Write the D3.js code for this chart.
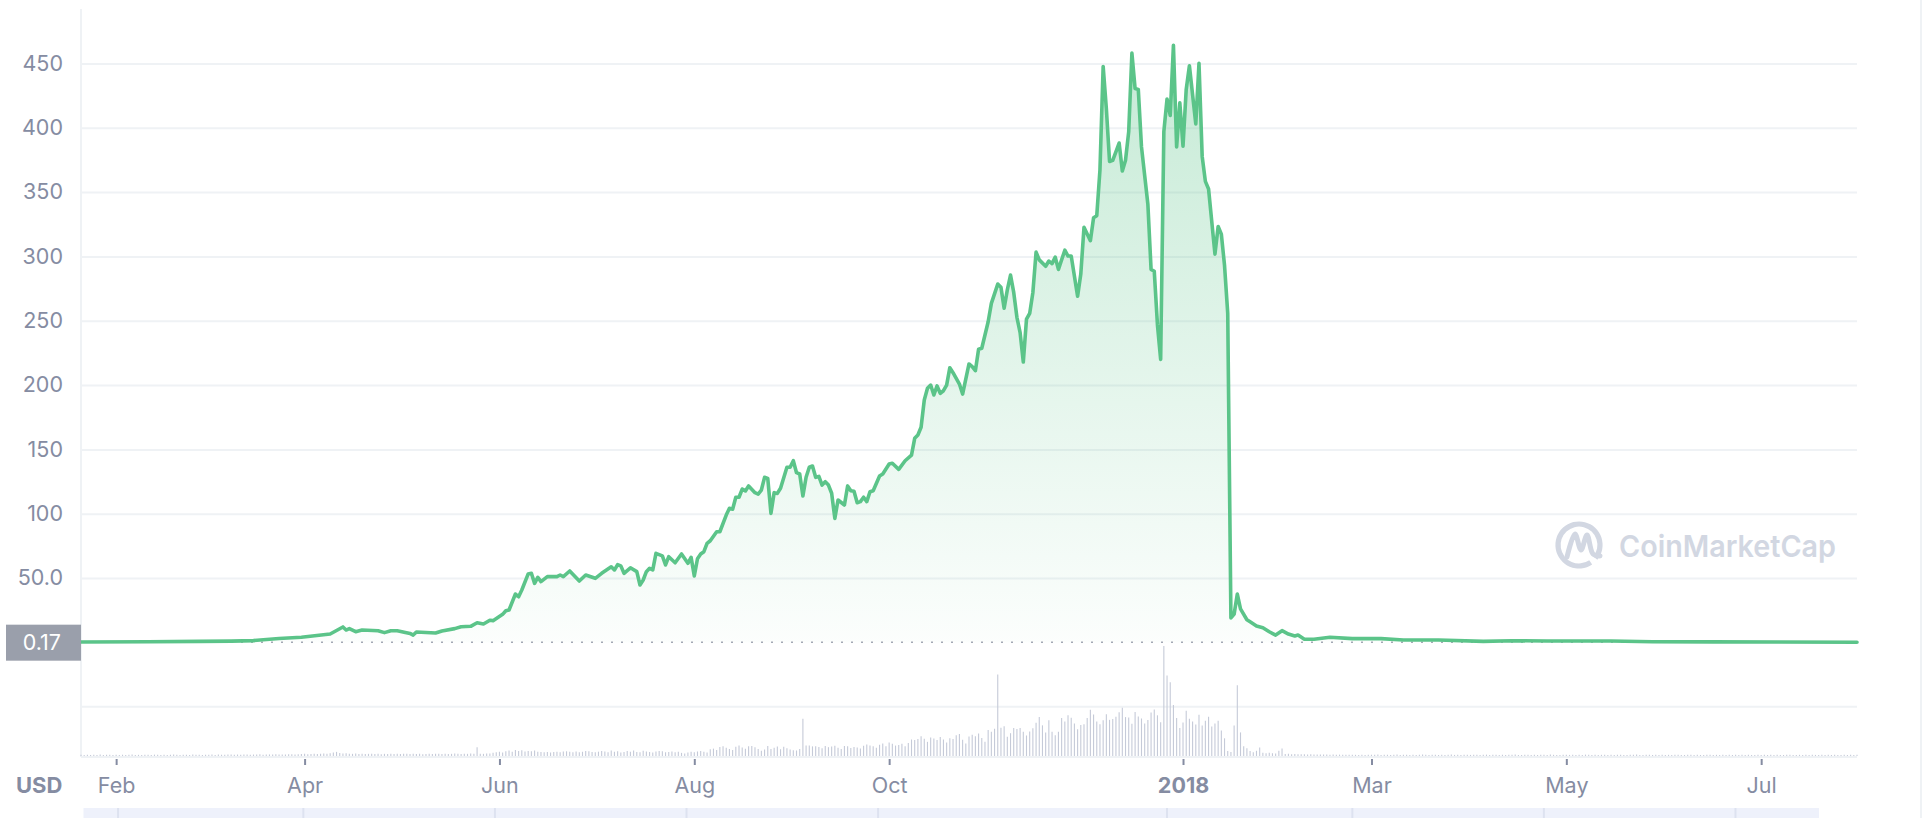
<!DOCTYPE html>
<html><head><meta charset="utf-8">
<script src="https://cdn.jsdelivr.net/npm/d3@7"></script>
<style>
html,body{margin:0;padding:0;background:#fff;overflow:hidden;}
svg{display:block;font-family:Inter,"Noto Sans",sans-serif;}
</style></head><body>
<svg id="chart" width="1922" height="818"></svg>
<script>
// ---------------- DATA ----------------
const priceDates = [
"2017-01-21","2017-02-11","2017-02-27","2017-03-09","2017-03-16","2017-03-24","2017-03-31","2017-04-09","2017-04-13","2017-04-14",
"2017-04-15","2017-04-17","2017-04-19","2017-04-24","2017-04-26","2017-04-28","2017-04-30","2017-05-04","2017-05-05","2017-05-06",
"2017-05-12","2017-05-14","2017-05-18","2017-05-20","2017-05-23","2017-05-25","2017-05-27","2017-05-29","2017-05-30","2017-06-02",
"2017-06-03","2017-06-04","2017-06-06","2017-06-07","2017-06-08","2017-06-10","2017-06-11","2017-06-12","2017-06-13","2017-06-14",
"2017-06-16","2017-06-19","2017-06-20","2017-06-21","2017-06-23","2017-06-26","2017-06-28","2017-07-01","2017-07-03","2017-07-06",
"2017-07-07","2017-07-08","2017-07-09","2017-07-10","2017-07-12","2017-07-14","2017-07-15","2017-07-16","2017-07-17","2017-07-18",
"2017-07-19","2017-07-20","2017-07-22","2017-07-23","2017-07-24","2017-07-26","2017-07-28","2017-07-30","2017-07-31","2017-08-01",
"2017-08-02","2017-08-03","2017-08-04","2017-08-05","2017-08-06","2017-08-08","2017-08-09","2017-08-11","2017-08-12","2017-08-13",
"2017-08-14","2017-08-15","2017-08-16","2017-08-17","2017-08-18","2017-08-20","2017-08-21","2017-08-22","2017-08-23","2017-08-24",
"2017-08-25","2017-08-26","2017-08-27","2017-08-28","2017-08-30","2017-08-31","2017-09-01","2017-09-02","2017-09-03","2017-09-04",
"2017-09-05","2017-09-06","2017-09-07","2017-09-08","2017-09-09","2017-09-10","2017-09-11","2017-09-12","2017-09-13","2017-09-14",
"2017-09-15","2017-09-17","2017-09-18","2017-09-19","2017-09-20","2017-09-21","2017-09-22","2017-09-23","2017-09-24","2017-09-25",
"2017-09-26","2017-09-28","2017-09-29","2017-10-01","2017-10-02","2017-10-04","2017-10-06","2017-10-08","2017-10-09","2017-10-10",
"2017-10-11","2017-10-12","2017-10-13","2017-10-14","2017-10-15","2017-10-16","2017-10-17","2017-10-18","2017-10-19","2017-10-20",
"2017-10-21","2017-10-23","2017-10-24","2017-10-26","2017-10-27","2017-10-28","2017-10-29","2017-10-30","2017-11-01","2017-11-02",
"2017-11-04","2017-11-05","2017-11-06","2017-11-07","2017-11-08","2017-11-09","2017-11-10","2017-11-11","2017-11-12","2017-11-13",
"2017-11-14","2017-11-15","2017-11-16","2017-11-17","2017-11-19","2017-11-20","2017-11-21","2017-11-22","2017-11-23","2017-11-25",
"2017-11-26","2017-11-27","2017-11-29","2017-11-30","2017-12-01","2017-12-03","2017-12-04","2017-12-05","2017-12-06","2017-12-07",
"2017-12-08","2017-12-09","2017-12-10","2017-12-12","2017-12-13","2017-12-14","2017-12-15","2017-12-16","2017-12-17","2017-12-18",
"2017-12-19","2017-12-21","2017-12-22","2017-12-23","2017-12-24","2017-12-25","2017-12-26","2017-12-27","2017-12-28","2017-12-29",
"2017-12-30","2017-12-31","2018-01-01","2018-01-02","2018-01-03","2018-01-05","2018-01-06","2018-01-07","2018-01-08","2018-01-09",
"2018-01-11","2018-01-12","2018-01-13","2018-01-14","2018-01-15","2018-01-16","2018-01-17","2018-01-18","2018-01-19","2018-01-21",
"2018-01-22","2018-01-24","2018-01-26","2018-01-28","2018-01-30","2018-02-01","2018-02-03","2018-02-05","2018-02-06","2018-02-08",
"2018-02-11","2018-02-16","2018-02-23","2018-03-04","2018-03-11","2018-03-22","2018-04-05","2018-04-14","2018-04-25","2018-05-15",
"2018-05-28","2018-06-16","2018-07-06","2018-07-31"
];
const priceValues = [
0.3,0.5,0.8,1.0,1.4,3.0,4.0,6.5,12.0,9.6,
10.7,8.3,9.6,9.1,7.6,9.1,9.0,7.0,5.7,8.1,
7.3,8.9,10.7,12.2,12.5,15.3,14.3,17.2,16.9,21.8,
24.6,25.2,37.6,35.5,40.7,53.2,53.7,45.9,50.6,47.2,
51.1,51.1,52.4,51.1,55.5,47.7,52.4,49.8,53.7,58.8,
56.3,60.4,59.5,53.7,58.0,55.0,44.6,48.5,55.0,57.6,
56.3,69.2,67.3,60.2,66.6,61.9,68.7,61.5,66.1,51.7,
65.0,68.7,70.5,77.0,79.0,86.0,86.0,99.0,104.2,103.5,
112.8,112.8,119.2,117.7,121.6,116.4,115.3,118.4,128.3,127.5,
100.3,116.4,115.8,119.8,136.1,136.1,141.2,131.9,130.9,113.8,
128.3,136.1,137.1,128.3,129.0,122.3,124.9,122.3,115.9,96.4,
110.7,106.8,121.6,117.9,117.4,108.6,109.4,112.8,109.4,117.1,
117.9,129.3,130.9,138.6,139.2,134.5,141.2,145.6,158.6,161.2,
167.2,188.4,197.5,200.0,192.3,199.3,193.6,195.6,200.0,213.5,
209.6,200.8,193.0,216.4,214.3,211.2,227.8,228.6,249.2,263.5,
278.5,276.0,259.7,274.0,285.5,272.0,252.7,240.8,217.9,251.2,
255.7,272.0,303.3,297.3,292.3,296.4,294.4,299.4,289.9,304.8,
300.3,300.3,269.0,286.3,322.6,312.2,330.1,331.6,367.3,447.6,
414.9,373.8,374.7,388.1,366.4,374.7,397.0,458.0,430.4,429.8,
385.1,340.5,289.9,288.4,246.7,220.0,397.0,422.3,409.5,464.0,
385.1,419.3,385.7,429.8,448.2,403.0,450.0,377.7,358.3,352.4,
301.8,323.2,317.3,292.9,255.7,19.0,22.0,37.5,26.0,17.6,
16.0,12.7,11.4,8.3,5.7,9.1,6.5,5.0,5.7,2.4,
2.4,4.0,2.9,2.9,1.9,1.9,0.8,1.3,1.1,1.1,
0.5,0.4,0.3,0.17
];

// daily volume (relative units), one array per month
const volumeMonthStarts = ["2017-01-21","2017-02-01","2017-03-01","2017-04-01","2017-05-01","2017-06-01","2017-07-01",
"2017-08-01","2017-09-01","2017-10-01","2017-11-01","2017-12-01","2018-01-01","2018-02-01","2018-03-01","2018-04-01",
"2018-05-01","2018-06-01","2018-07-01"];
const volumeMonthValues = [
[1.2,1.0,1.3,1.1,1.2,1.0,1.4,1.1,1.2,1.3,1.1],
[1.2,1.1,1.3,1.0,1.2,1.4,1.1,1.2,1.0,1.3,1.2,1.1,1.4,1.2,1.0,1.3,1.1,1.2,1.5,1.2,1.1,1.3,1.2,1.0,1.4,1.2,1.3,1.1],
[1.3,1.2,1.4,1.1,1.5,1.3,1.2,1.6,1.4,1.3,1.5,1.2,1.4,1.6,1.3,1.5,1.4,1.7,1.3,1.5,1.6,1.4,1.8,1.5,1.6,1.4,1.7,1.9,1.6,1.8,2.0],
[2.2,1.9,2.1,2.4,2.0,2.3,2.6,2.2,2.8,3.5,4.2,3.1,2.6,2.9,2.4,2.2,2.5,2.1,2.3,2.0,2.2,2.4,2.1,2.3,1.9,2.2,2.0,2.3,2.1,2.2],
[2.0,2.2,2.4,2.1,2.3,2.0,2.2,1.9,2.1,2.3,2.0,2.2,2.4,2.1,2.3,2.0,2.2,2.5,2.3,2.1,2.4,2.2,2.6,2.3,9.0,2.4,2.2,2.6,2.5,3.2,3.8],
[4.2,3.6,4.8,5.5,4.4,6.2,5.0,5.8,4.6,5.2,4.8,5.6,4.2,4.0,3.8,4.1,3.6,4.0,4.4,3.9,4.5,4.8,4.2,3.9,4.6,3.7,4.3,5.1,4.8,4.0],
[3.9,4.4,5.2,4.6,3.8,5.6,4.3,4.9,3.6,4.0,5.0,4.4,5.5,4.1,3.8,5.3,4.7,4.0,3.6,4.5,5.2,4.8,3.8,4.1,4.6,3.9,4.3,3.2,2.5,3.6,4.4],
[3.8,4.6,5.1,4.3,3.6,6.8,7.5,6.2,9.2,9.8,8.4,7.2,6.0,9.5,10.6,8.6,7.4,9.8,10.2,8.8,7.0,5.4,6.6,10.2,7.0,8.4,9.6,6.9,9.4,7.8,6.6],
[5.9,5.6,7.2,38,10.6,10.6,9.8,9.9,9.2,8.0,10.3,9.0,9.6,10.5,8.4,7.0,10.2,9.8,8.1,9.2,8.6,7.6,10.4,11.8,10.6,9.8,8.5,11.4,12.6,9.9],
[13.8,12.5,10.6,11.3,12.4,9.8,13.2,16.8,16.2,17.4,20.0,17.6,14.4,18.8,17.9,16.2,19.3,16.8,13.8,18.0,17.2,21.2,22.4,16.6,12.7,19.8,21.6,20.2,23.0,18.3,14.6],
[26.4,24.8,27.8,83,28.8,30.4,19.6,23.2,28.6,27.6,28.6,24.8,20.9,25.0,28.2,33.8,39.8,31.2,23.8,36.5,24.8,21.2,24.8,38.6,35.0,41.4,38.8,33.0,27.2,31.6],
[32.2,38.6,47.0,42.2,35.0,32.2,36.4,42.4,36.8,37.6,40.0,44.4,49,39.6,39.2,32.8,44.8,40.2,38.2,33.0,36.6,44.2,47.4,41.4,34.4,112,82,75,52,38.6,28.4],
[34,46,38,35,32,42,31,36,40,30,33,36,26,18,5,4,31,72,24,10,8,5,3.7,5.3,8.7,3.3,2.7,3.2,2.8,2.6,5.3],
[7.7,2.0,2.2,1.8,2.0,1.9,1.7,1.8,1.6,1.7,1.5,1.6,1.5,1.4,1.5,1.3,1.4,1.3,1.4,1.2,1.3,1.2,1.3,1.2,1.1,1.2,1.1,1.2],
[1.3,1.2,1.4,1.1,1.2,1.3,1.0,1.2,1.4,1.1,1.3,1.2,1.1,1.3,1.0,1.2,1.4,1.2,1.1,1.3,1.2,1.0,1.3,1.1,1.2,1.4,1.1,1.2,1.0,1.3,1.2],
[1.1,1.3,1.2,1.0,1.2,1.4,1.1,1.2,1.3,1.0,1.2,1.1,1.3,1.2,1.4,1.1,1.0,1.2,1.3,1.1,1.2,1.0,1.3,1.2,1.1,1.4,1.2,1.0,1.1,1.3],
[1.2,1.1,1.3,1.0,1.2,1.1,1.4,1.2,1.0,1.3,1.1,1.2,1.3,1.0,1.2,1.1,1.3,1.2,1.0,1.1,1.3,1.2,1.4,1.1,1.0,1.2,1.3,1.1,1.2,1.0,1.3],
[1.1,1.2,1.0,1.3,1.2,1.1,1.0,1.2,1.3,1.1,1.2,1.0,1.1,1.3,1.2,1.0,1.2,1.1,1.3,1.0,1.2,1.1,1.2,1.0,1.3,1.1,1.2,1.0,1.1,1.2],
[1.0,1.2,1.1,1.3,1.0,1.2,1.1,1.0,1.2,1.3,1.1,1.0,1.2,1.1,1.3,1.0,1.2,1.1,1.0,1.2,1.1,1.3,1.0,1.2,1.1,1.0,1.2,1.1,1.3,1.0,1.2]
];

const yTickValues = [50,100,150,200,250,300,350,400,450];
const yTickLabels = ["50.0","100","150","200","250","300","350","400","450"];
const xTickDates = ["2017-02-01","2017-04-01","2017-06-01","2017-08-01","2017-10-01","2018-01-01","2018-03-01","2018-05-01","2018-07-01"];
const xTickLabels = ["Feb","Apr","Jun","Aug","Oct","2018","Mar","May","Jul"];
const navigatorDates = xTickDates;
const dateDomain = ["2017-01-21","2018-07-31"];
const currentPrice = 0.17;
const currentPriceLabel = "0.17";
const currencyLabel = "USD";
const watermarkText = "CoinMarketCap";
const volumeGridValue = 50;
const volumeMax = 115;

// ---------------- DRAW ----------------
const parse = d3.utcParse("%Y-%m-%d");
const svg = d3.select("#chart");
const L = 81, R = 1857;
const textColor = "#858ca2", gridColor = "#eff2f5", green = "#5bc489";

const x = d3.scaleUtc().domain(dateDomain.map(parse)).range([L, R]);
const y = d3.scaleLinear().domain([0, 450]).range([642.4, 63.4]);
const yv = d3.scaleLinear().domain([0, volumeMax]).range([756, 643]);

const prices = priceDates.map((d, i) => ({date: parse(d), value: priceValues[i]}));
const volumes = [];
volumeMonthStarts.forEach((s, m) => {
  const start = parse(s);
  volumeMonthValues[m].forEach((v, i) => volumes.push({date: d3.utcDay.offset(start, i), value: v}));
});

// defs gradient
const defs = svg.append("defs");
const grad = defs.append("linearGradient").attr("id", "areaGrad")
  .attr("gradientUnits", "userSpaceOnUse").attr("x1", 0).attr("x2", 0)
  .attr("y1", y(450)).attr("y2", y(0));
grad.append("stop").attr("offset", "0%").attr("stop-color", green).attr("stop-opacity", 0.34);
grad.append("stop").attr("offset", "100%").attr("stop-color", green).attr("stop-opacity", 0.02);

// left axis line and right border
svg.append("line").attr("x1", L).attr("x2", L).attr("y1", 9).attr("y2", 757)
  .attr("stroke", gridColor).attr("stroke-width", 2);
svg.append("line").attr("x1", 1921).attr("x2", 1921).attr("y1", 0).attr("y2", 818)
  .attr("stroke", gridColor).attr("stroke-width", 2);

// y axis with gridlines
const yAxis = svg.append("g").attr("transform", `translate(${L},0)`)
  .call(d3.axisLeft(y).tickValues(yTickValues).tickSize(-(R - L)).tickPadding(18)
    .tickFormat((d, i) => yTickLabels[i]));
yAxis.select(".domain").remove();
yAxis.selectAll(".tick line").attr("stroke", gridColor).attr("stroke-width", 2);
yAxis.selectAll(".tick text").attr("fill", textColor).attr("font-size", 21.5)
  .attr("font-family", "Inter, sans-serif");

// volume grid lines
svg.append("line").attr("x1", L).attr("x2", R).attr("y1", yv(volumeGridValue)).attr("y2", yv(volumeGridValue))
  .attr("stroke", gridColor).attr("stroke-width", 2);
svg.append("line").attr("x1", L).attr("x2", R).attr("y1", yv(0) + 1).attr("y2", yv(0) + 1)
  .attr("stroke", gridColor).attr("stroke-width", 2);

// area
svg.append("path").datum(prices)
  .attr("d", d3.area().x(d => x(d.date)).y0(y(0)).y1(d => y(d.value)))
  .attr("fill", "url(#areaGrad)");

// current price dotted line
svg.append("line").attr("x1", L).attr("x2", R).attr("y1", y(currentPrice)).attr("y2", y(currentPrice))
  .attr("stroke", "#a3a8b4").attr("stroke-width", 1.6).attr("stroke-dasharray", "2 8");

// volume bars
svg.append("g").selectAll("line").data(volumes).join("line")
  .attr("x1", d => x(d.date)).attr("x2", d => x(d.date))
  .attr("y1", yv(0)).attr("y2", d => yv(d.value))
  .attr("stroke", "#c5cad8").attr("stroke-width", 1.1);

// watermark
const wm = svg.append("g").attr("fill", "none").attr("stroke", "#d2d7e2");
const cx = 1579, cy = 545, r = 21;
wm.append("path")
  .attr("d", d3.arc()({innerRadius: r - 2.6, outerRadius: r + 2.6, startAngle: 2.55, endAngle: 2 * Math.PI + 2.25}))
  .attr("transform", `translate(${cx},${cy})`).attr("fill", "#d2d7e2").attr("stroke", "none");
wm.append("path")
  .attr("d", d3.line().curve(d3.curveCatmullRom.alpha(0.5))([
    [cx - 12, cy + 12], [cx - 4, cy - 11], [cx + 2, cy + 5], [cx + 8, cy - 10], [cx + 14, cy + 9], [cx + 21, cy + 11]
  ]))
  .attr("stroke-width", 5).attr("stroke-linecap", "round").attr("stroke-linejoin", "round");
svg.append("text").attr("x", 1619).attr("y", 556.5).text(watermarkText)
  .attr("fill", "#d2d7e2").attr("font-size", 30).attr("font-weight", 600)
  .attr("font-family", "Inter, sans-serif").attr("textLength", 217).attr("lengthAdjust", "spacingAndGlyphs");

// price line
svg.append("path").datum(prices)
  .attr("d", d3.line().x(d => x(d.date)).y(d => y(d.value)))
  .attr("fill", "none").attr("stroke", green).attr("stroke-width", 3.6)
  .attr("stroke-linejoin", "round").attr("stroke-linecap", "round");

// current price label box
svg.append("rect").attr("x", 6).attr("y", y(currentPrice) - 17.5).attr("width", L - 6).attr("height", 36)
  .attr("fill", "#9a9fab");
svg.append("text").attr("x", 61).attr("y", y(currentPrice)).attr("dy", "0.36em")
  .attr("text-anchor", "end").attr("fill", "#fff").attr("font-size", 21.5)
  .attr("font-family", "Inter, sans-serif").text(currentPriceLabel);

// x axis
const xAxis = svg.append("g").attr("transform", "translate(0,759)")
  .call(d3.axisBottom(x).tickValues(xTickDates.map(parse)).tickSize(6).tickPadding(12.7)
    .tickFormat((d, i) => xTickLabels[i]));
xAxis.select(".domain").remove();
xAxis.selectAll(".tick line").attr("stroke", textColor).attr("stroke-width", 2);
xAxis.selectAll(".tick text").attr("fill", textColor).attr("font-size", 21.5)
  .attr("font-family", "Inter, sans-serif")
  .attr("font-weight", (d, i) => xTickLabels[i] === "2018" ? 700 : 400);

svg.append("text").attr("x", 16).attr("y", 793).text(currencyLabel)
  .attr("fill", textColor).attr("font-size", 22).attr("font-weight", 700)
  .attr("font-family", "Inter, sans-serif");

// navigator strip (top of it visible)
const xn = d3.scaleUtc().domain(dateDomain.map(parse)).range([83.5, 1829.7]);
svg.append("rect").attr("x", xn.range()[0]).attr("y", 808).attr("width", 1819 - xn.range()[0]).attr("height", 12)
  .attr("fill", "#eef1fb");
svg.append("g").selectAll("line").data(navigatorDates.map(parse)).join("line")
  .attr("x1", d => xn(d)).attr("x2", d => xn(d)).attr("y1", 808).attr("y2", 818)
  .attr("stroke", "#dde2f0").attr("stroke-width", 2);
</script>
</body></html>
